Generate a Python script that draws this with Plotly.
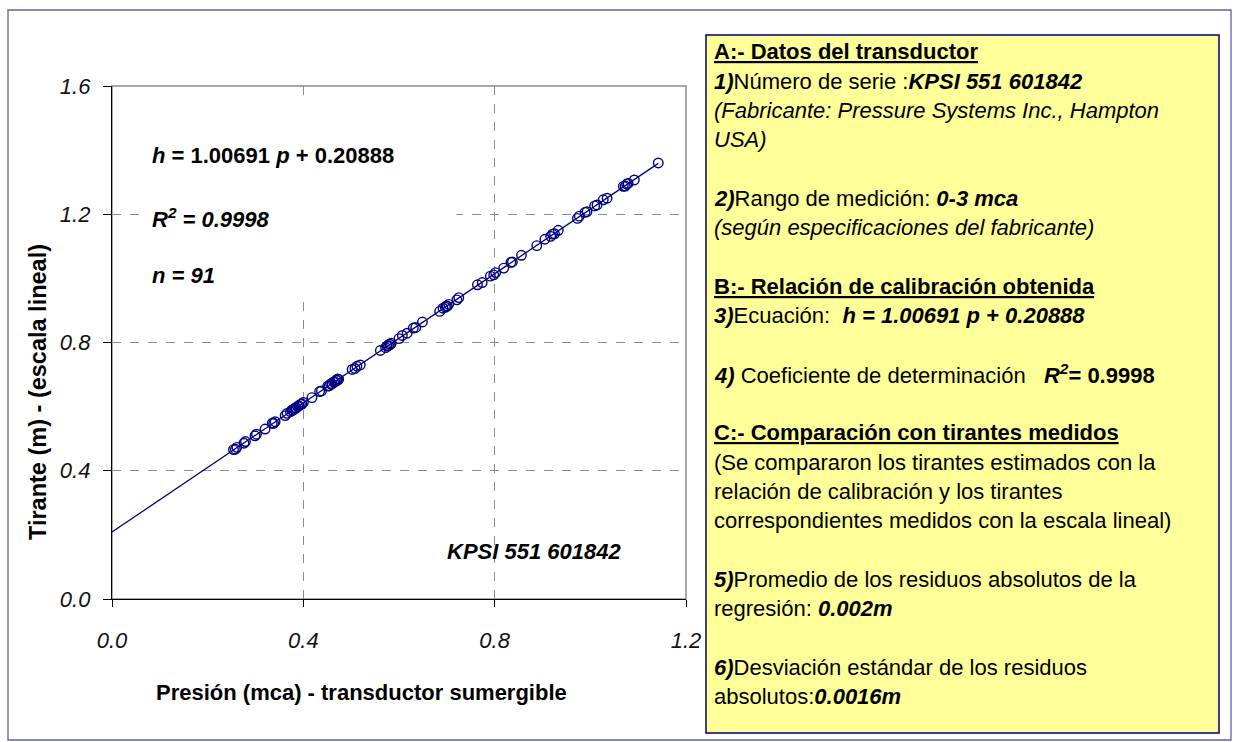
import plotly.graph_objects as go

# Calibration readings: pressure from the submersible transducer (m of water column)
presion = [
    0.254, 0.258, 0.261, 0.276, 0.279, 0.299, 0.302, 0.320, 0.335, 0.338,
    0.341, 0.362, 0.366, 0.373, 0.376, 0.378, 0.380, 0.383, 0.385, 0.388,
    0.391, 0.394, 0.397, 0.400, 0.418, 0.434, 0.438, 0.451, 0.454, 0.457,
    0.460, 0.463, 0.466, 0.469, 0.470, 0.472, 0.474, 0.502, 0.508, 0.512,
    0.519, 0.561, 0.572, 0.575, 0.578, 0.580, 0.582, 0.584, 0.600, 0.607,
    0.617, 0.630, 0.635, 0.649, 0.685, 0.692, 0.697, 0.699, 0.701, 0.704,
    0.721, 0.725, 0.764, 0.774, 0.791, 0.798, 0.802, 0.819, 0.834, 0.837,
    0.856, 0.888, 0.905, 0.917, 0.921, 0.925, 0.933, 0.973, 0.977, 0.989,
    0.993, 1.009, 1.014, 1.027, 1.035, 1.069, 1.073, 1.076, 1.079, 1.092,
    1.142,
]

# Water depth read on the staff gauge (m)
tirante = [
    0.466, 0.467, 0.473, 0.486, 0.491, 0.509, 0.514, 0.530, 0.548, 0.548,
    0.553, 0.572, 0.579, 0.584, 0.589, 0.588, 0.592, 0.596, 0.595, 0.601,
    0.602, 0.607, 0.608, 0.613, 0.628, 0.647, 0.649, 0.664, 0.665, 0.671,
    0.671, 0.677, 0.677, 0.683, 0.681, 0.686, 0.685, 0.716, 0.719, 0.726,
    0.730, 0.775, 0.784, 0.789, 0.790, 0.795, 0.794, 0.798, 0.812, 0.822,
    0.829, 0.845, 0.847, 0.864, 0.897, 0.907, 0.910, 0.914, 0.913, 0.919,
    0.933, 0.940, 0.980, 0.987, 1.007, 1.011, 1.018, 1.032, 1.050, 1.051,
    1.072, 1.102, 1.122, 1.131, 1.138, 1.139, 1.150, 1.187, 1.194, 1.206,
    1.208, 1.226, 1.229, 1.245, 1.250, 1.287, 1.288, 1.294, 1.296, 1.307,
    1.360,
]

# Fitted calibration relation h = a p + b
pendiente = 1.00691
intercepto = 0.20888
rango_recta = [0.0, 1.142]

x_ticks = [0.0, 0.4, 0.8, 1.2]
x_tick_labels = ["0.0", "0.4", "0.8", "1.2"]
y_ticks = [0.0, 0.4, 0.8, 1.2, 1.6]
y_tick_labels = ["0.0", "0.4", "0.8", "1.2", "1.6"]

W, H = 1233, 742
L, R, T, B = 112, 686, 86, 599
NAVY = "#000080"
FONT = "Liberation Sans, Arial, sans-serif"


def fx(px):
    return (px - L) / (R - L)


def fy(py):
    return (B - py) / (B - T)


fig = go.Figure()

fig.add_trace(go.Scatter(
    x=rango_recta,
    y=[pendiente * p + intercepto for p in rango_recta],
    mode="lines",
    line=dict(color=NAVY, width=1.3),
    hoverinfo="skip",
    showlegend=False,
))

fig.add_trace(go.Scatter(
    x=presion,
    y=tirante,
    mode="markers",
    marker=dict(symbol="circle-open", size=9.5, color=NAVY, line=dict(width=1.4, color=NAVY)),
    showlegend=False,
))

axis_common = dict(
    showline=True,
    linecolor="black",
    linewidth=1.3,
    ticks="outside",
    tickcolor="black",
    tickwidth=1.3,
    showgrid=True,
    gridcolor="#8c8c8c",
    griddash="dash",
    gridwidth=1,
    zeroline=False,
    tickfont=dict(family=FONT, size=22, color="#111111", style="italic"),
)

fig.update_xaxes(
    range=[0, 1.2],
    tickvals=x_ticks,
    ticktext=x_tick_labels,
    ticklen=7,
    ticklabelstandoff=14,
    **axis_common,
)
fig.update_yaxes(
    range=[0, 1.6],
    tickvals=y_ticks,
    ticktext=y_tick_labels,
    ticklen=8,
    ticklabelstandoff=8,
    **axis_common,
)

shapes = [
    # outer frame of the chart
    dict(type="rect", xref="paper", yref="paper",
         x0=fx(8), x1=fx(1231), y0=fy(740), y1=fy(10),
         line=dict(color="#6060b0", width=1.3), fillcolor="rgba(0,0,0,0)", layer="below"),
    # plot area border (top and right in grey)
    dict(type="rect", xref="paper", yref="paper", x0=0, x1=1, y0=0, y1=1,
         line=dict(color="#8c8c8c", width=1.5), layer="below"),
    # white backing behind the regression statistics
    dict(type="rect", xref="x", yref="y", x0=0.073, x1=0.72, y0=0.933, y1=1.544,
         line=dict(width=0), fillcolor="white", layer="between"),
    # yellow information panel
    dict(type="rect", xref="paper", yref="paper",
         x0=fx(706), x1=fx(1219), y0=fy(733), y1=fy(35),
         line=dict(color="#00006e", width=1.5), fillcolor="#ffff99", layer="below"),
]

annotations = []


def texto(px, py, txt, size=22, xanchor="left", angle=0, color="black"):
    annotations.append(dict(
        x=fx(px), y=fy(py), xref="paper", yref="paper",
        text=txt, showarrow=False, xanchor=xanchor, yanchor="middle",
        textangle=angle, font=dict(family=FONT, size=size, color=color),
    ))


# statistics of the fit inside the plot
texto(150, 155, "<b><i>h</i> = 1.00691 <i>p</i> + 0.20888</b>")
texto(150, 218, "<b><i>R<sup>2</sup> = 0.9998</i></b>")
texto(150, 275, "<b><i>n = 91</i></b>")
texto(534, 551, "<b><i>KPSI 551 601842</i></b>", xanchor="center")

# axis titles
texto(361, 693, "<b>Presión (mca) - transductor sumergible</b>", xanchor="center")
texto(38, 392, "<b>Tirante (m) - (escala lineal)</b>", size=23.5, xanchor="center", angle=-90)

# information panel lines
panel = [
    (0, "<u><b>A:- Datos del transductor</b></u>"),
    (1, "<b><i>1)</i></b>Número de serie :<b><i>KPSI 551 601842</i></b>"),
    (2, "<i>(Fabricante: Pressure Systems Inc., Hampton</i>"),
    (3, "<i>USA)</i>"),
    (5, "<b><i>2)</i></b>Rango de medición: <b><i>0-3 mca</i></b>"),
    (6, "<i>(según especificaciones del fabricante)</i>"),
    (8, "<u><b>B:- Relación de calibración obtenida</b></u>"),
    (9, "<b><i>3)</i></b>Ecuación:\u00a0 <b><i>h = 1.00691 p + 0.20888</i></b>"),
    (11, "<b><i>4)</i></b> Coeficiente de determinación\u00a0\u00a0 <b><i>R<sup>2</sup></i>= 0.9998</b>"),
    (13, "<u><b>C:- Comparación con tirantes medidos</b></u>"),
    (14, "(Se compararon los tirantes estimados con la"),
    (15, "relación de calibración y los tirantes"),
    (16, "correspondientes medidos con la escala lineal)"),
    (18, "<b><i>5)</i></b>Promedio de los residuos absolutos de la"),
    (19, "regresión: <b><i>0.002m</i></b>"),
    (21, "<b><i>6)</i></b>Desviación estándar de los residuos"),
    (22, "absolutos:<b><i>0.0016m</i></b>"),
]
for fila, txt in panel:
    texto(712, 52 + 29.3 * fila, txt)

fig.update_layout(
    width=W,
    height=H,
    margin=dict(l=L, r=W - R, t=T, b=H - B, pad=0),
    paper_bgcolor="white",
    plot_bgcolor="white",
    shapes=shapes,
    annotations=annotations,
    font=dict(family=FONT),
)

fig.write_html("out.html", config={"displayModeBar": False})
